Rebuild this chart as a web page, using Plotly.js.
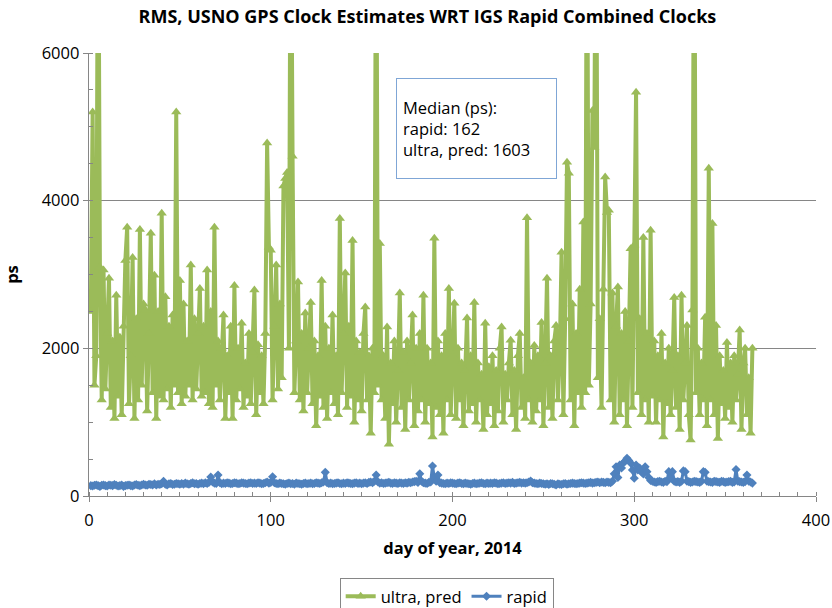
<!DOCTYPE html>
<html>
<head>
<meta charset="utf-8">
<script src="https://cdn.plot.ly/plotly-3.0.1.min.js"></script>
<style>html,body{margin:0;padding:0;background:#fff}#chart{width:832px;height:608px}</style>
</head>
<body>
<div id="chart"></div>
<script>
// day of year 2014 (1..365)
const days = Array.from({length: 365}, (_, i) => i + 1);

// RMS of ultra-rapid predicted clocks (ps)
const ultraPred = [
  2500,5200,1500,1900,9000,3100,1300,3060,1450,2200,
  2950,1200,2100,1050,2720,1350,2150,1100,2300,3190,
  3640,1250,1900,3230,1050,2400,1300,3610,1500,2600,
  2520,1150,2200,3560,1400,2990,1050,2500,1350,3830,
  1300,2700,1450,2300,1200,2450,1500,5200,1400,2920,
  1250,2600,1350,2100,1500,3130,1300,2400,1450,2200,
  2810,1350,2300,1400,3060,1250,2500,1200,3640,1500,
  2100,1300,2000,2450,1050,1900,1400,2300,1050,2850,
  1300,2000,1450,2340,1200,1800,1350,2200,1250,1950,
  2790,1100,2050,1400,1900,1250,2200,4780,3370,3330,
  1300,2300,3130,1450,2600,1600,4200,4300,4380,2000,
  9000,4600,1400,2100,2900,1300,2200,1150,2480,1400,
  2000,2620,1250,2100,950,1900,1350,2920,1200,2300,
  1050,2000,1400,2450,1250,1900,1100,3760,1400,2200,
  3020,1200,2300,1350,3460,1000,2100,1300,1950,1150,
  2200,2560,1300,1900,850,2000,1400,9000,1500,3420,
  1300,1900,1050,2290,700,1800,1250,2100,1000,1700,
  2750,1200,1950,900,2100,1300,1800,2450,950,2000,
  1150,2200,1300,2720,1000,2000,1250,1800,800,3490,
  1200,2100,1100,1900,850,2200,1300,2810,1100,1900,
  2610,1050,2000,1300,1800,950,1700,2410,1150,1900,
  1250,2620,1000,1800,1300,1650,900,2340,1100,1750,
  1250,1900,950,1700,1150,2000,2290,1000,1650,1300,
  1800,2110,1100,1700,900,1900,2200,1200,1600,1050,
  3770,1300,1800,1000,2040,1150,1900,1300,2350,950,
  1800,2950,1200,1900,1050,2100,2310,1300,1900,3300,
  1100,2400,4520,4370,1300,2600,950,2200,1400,2800,
  1200,3710,1400,9000,1500,2600,5220,4720,9000,1600,
  2400,1200,2800,4320,3840,3870,1300,2750,1000,2300,
  2830,1100,2200,1300,2500,950,2100,3350,1200,3400,
  5470,1400,2400,1100,3500,1300,2200,1000,3600,1350,
  2100,1000,1900,1300,2200,800,1800,1250,2000,1100,
  1700,2690,1200,1900,900,2720,1300,1800,2310,1100,
  760,2520,9000,1400,2000,1100,1800,1300,2420,950,
  4440,1300,3690,1100,2310,780,1900,1250,1700,1050,
  2080,1200,1800,1000,1900,1300,1650,2250,900,1800,
  2000,1100,1600,850,2000
];

// RMS of rapid clocks (ps)
const rapid = [
  140,135,145,150,140,130,145,150,140,135,
  150,145,140,155,145,135,140,150,130,140,
  145,150,140,135,150,155,145,140,150,160,
  150,145,160,155,150,165,150,160,155,165,
  200,160,150,165,170,155,160,170,165,160,
  170,160,175,165,160,170,180,165,170,160,
  170,175,165,180,170,185,257,190,175,170,
  284,180,165,175,170,180,175,165,170,180,
  175,165,170,180,175,170,165,175,180,170,
  175,170,180,175,165,170,180,190,175,185,
  261,180,170,165,175,170,165,160,170,175,
  165,170,160,175,170,165,160,170,175,165,
  170,175,165,170,180,175,170,180,190,320,
  180,170,175,165,170,175,180,170,165,175,
  170,180,175,170,165,175,180,170,175,165,
  175,180,170,185,190,180,200,284,190,175,
  180,170,175,180,185,175,170,180,175,170,
  180,175,170,180,175,185,180,190,195,200,
  185,302,200,180,175,170,185,190,406,250,
  200,284,180,175,170,165,175,170,180,175,
  170,165,175,180,170,165,175,170,165,160,
  170,175,165,170,175,180,170,165,175,170,
  175,170,180,175,165,170,175,180,170,175,
  180,175,185,170,175,180,185,175,180,175,
  180,190,203,180,175,170,165,175,170,165,
  160,165,155,170,165,160,150,165,160,155,
  165,170,160,165,170,175,170,165,170,175,
  180,175,170,175,180,185,175,180,185,190,
  180,190,185,180,190,185,180,200,300,397,
  250,420,380,450,470,510,480,446,352,240,
  420,352,379,325,300,397,330,250,210,200,
  190,185,195,200,190,185,200,195,330,250,
  330,200,190,195,185,200,340,330,200,195,
  185,190,200,195,190,185,200,330,320,200,
  195,190,185,200,195,190,185,200,195,185,
  190,195,200,185,190,358,200,195,190,185,
  195,284,200,190,175
];

const titleText = 'RMS, USNO GPS Clock Estimates WRT IGS Rapid Combined Clocks';
const xTitle = 'day of year, 2014';
const yTitle = 'ps';
const noteLines = ['Median (ps):', 'rapid: 162', 'ultra, pred: 1603'];

const FONT = 'Open Sans, Liberation Sans, sans-serif';
const GREEN = '#9BBB59';
const BLUE = '#4F81BD';
const AXIS = '#868686';

const traces = [
  {
    x: days, y: ultraPred, name: 'ultra, pred', type: 'scatter', mode: 'lines+markers',
    line: {color: GREEN, width: 4},
    marker: {symbol: 'triangle-up', size: 9, color: GREEN}
  },
  {
    x: days, y: rapid, name: 'rapid', type: 'scatter', mode: 'lines+markers',
    line: {color: BLUE, width: 3},
    marker: {symbol: 'diamond', size: 7, color: BLUE}
  }
];

const layout = {
  width: 832, height: 608,
  paper_bgcolor: '#fff', plot_bgcolor: '#fff',
  margin: {l: 89, r: 16, t: 53, b: 112, autoexpand: false},
  font: {family: FONT, size: 16, color: '#000'},
  title: {text: '<b>' + titleText + '</b>', font: {family: FONT, size: 18, color: '#000'},
          x: 0.4655, xref: 'paper', xanchor: 'center', y: 0.972, yref: 'container', yanchor: 'middle'},
  xaxis: {
    range: [0, 400], dtick: 100, tick0: 0,
    showgrid: false, zeroline: false,
    showline: true, linecolor: AXIS, linewidth: 1.3,
    ticks: 'outside', ticklen: 5, tickcolor: AXIS,
    minor: {dtick: 10, ticks: 'inside', ticklen: 4, tickcolor: AXIS, showgrid: false},
    tickfont: {family: FONT, size: 16.5, color: '#000'},
    ticklabelstandoff: 4,
    title: {text: '<b>' + xTitle + '</b>', font: {family: FONT, size: 16.5, color: '#000'}, standoff: 12}
  },
  yaxis: {
    range: [0, 6000], dtick: 2000, tick0: 0,
    showgrid: true, gridcolor: AXIS, gridwidth: 1,
    zeroline: false,
    showline: true, linecolor: AXIS, linewidth: 1.3,
    ticks: 'outside', ticklen: 5, tickcolor: AXIS,
    minor: {dtick: 500, ticks: 'inside', ticklen: 4, tickcolor: AXIS, showgrid: false},
    tickfont: {family: FONT, size: 16.5, color: '#000'},
    title: {text: '<b>' + yTitle + '</b>', font: {family: FONT, size: 16.5, color: '#000'}, standoff: 22}
  },
  showlegend: true,
  legend: {
    orientation: 'h', x: 0.492, xanchor: 'center', y: -0.185, yanchor: 'top',
    bordercolor: AXIS, borderwidth: 1, bgcolor: '#fff',
    font: {family: FONT, size: 16.5, color: '#000'},
    itemwidth: 30, tracegroupgap: 0
  },
  annotations: [{
    xref: 'paper', yref: 'paper', x: 0.4225, y: 0.9436, xanchor: 'left', yanchor: 'top',
    text: noteLines.join('<br>'), showarrow: false, align: 'left', valign: 'middle',
    font: {family: FONT, size: 16.5, color: '#000'},
    bordercolor: '#7FA6D6', borderwidth: 1, borderpad: 6, bgcolor: '#fff',
    width: 147, height: 87
  }]
};

Plotly.newPlot('chart', traces, layout, {displayModeBar: false, staticPlot: true});
</script>
</body>
</html>
